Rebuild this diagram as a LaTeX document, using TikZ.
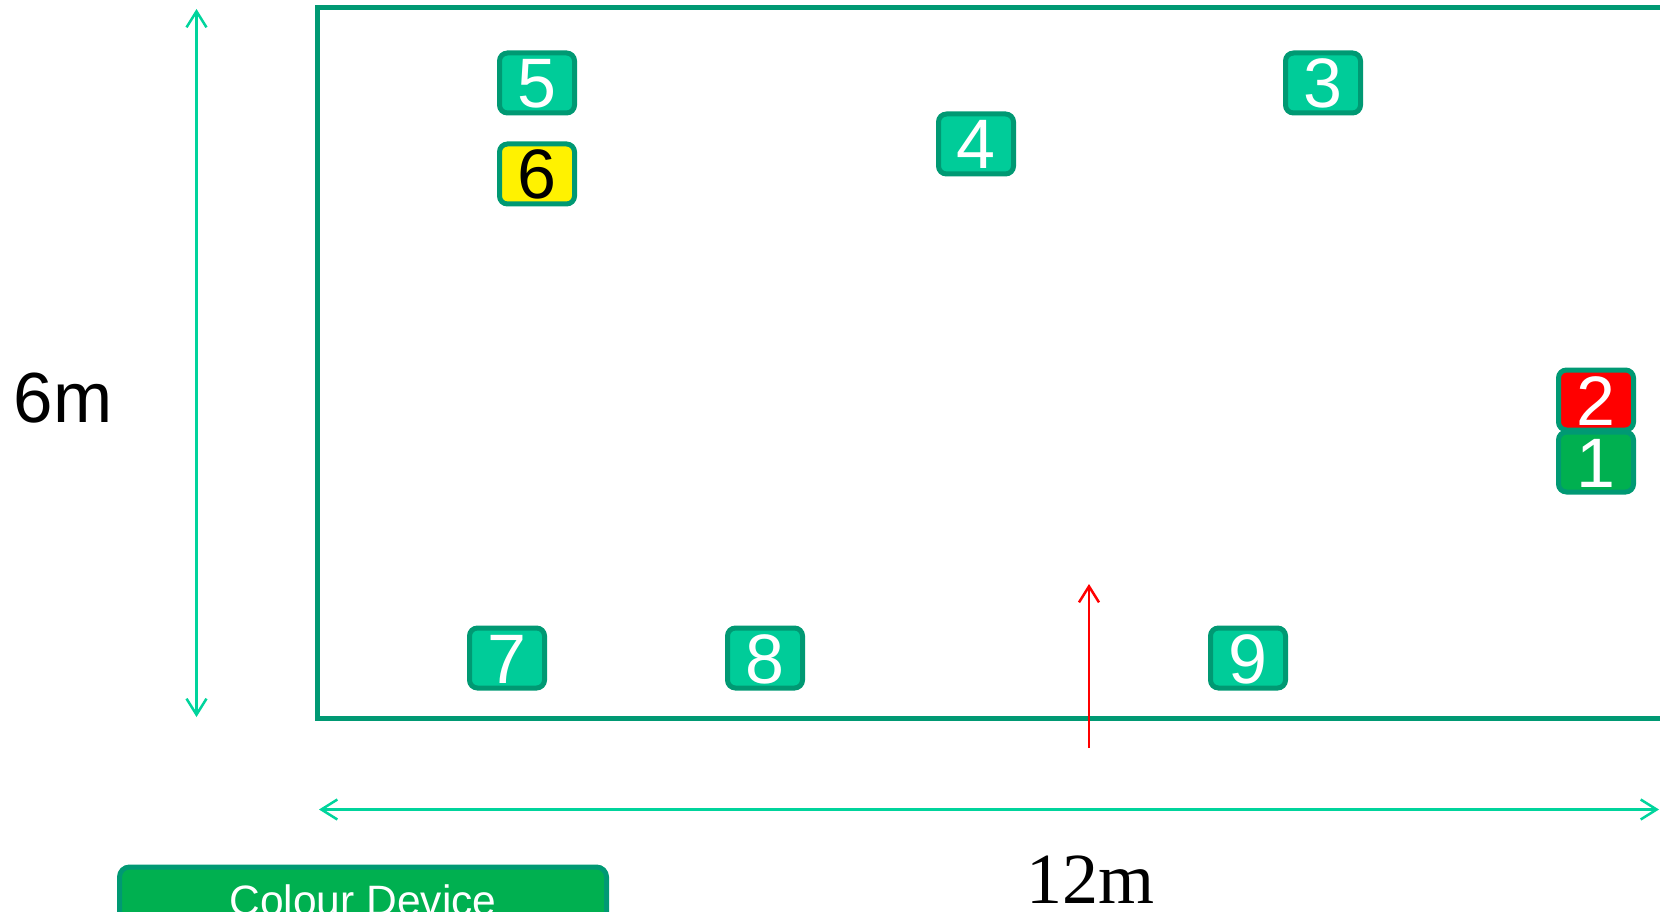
\documentclass[tikz,border=0pt]{standalone}
\usepackage{fontspec}
\setmainfont{Liberation Sans}
\newfontfamily\serifnum{Liberation Serif}
\usetikzlibrary{arrows.meta}
\definecolor{frameg}{HTML}{009973}
\definecolor{arrowg}{HTML}{00D49C}
\definecolor{boxg}{HTML}{00CC99}
\definecolor{darkg}{HTML}{00B050}
\tikzset{
  devbox/.style={draw=frameg, line width=5pt, rounded corners=8pt, fill=boxg,
    minimum width=75pt, minimum height=60pt, inner sep=0pt,
    text height=50pt, text depth=0pt, text=white,
    font=\fontsize{70}{70}\selectfont},
  dimarrow/.style={draw=arrowg, line width=2.5pt,
    {Straight Barb[length=16pt,width=20pt,line width=2.5pt]}-{Straight Barb[length=16pt,width=20pt,line width=2.5pt]}},
  wall/.style={draw=frameg, line width=5pt}
}
\begin{document}
\begin{tikzpicture}[x=1pt,y=-1pt]
\useasboundingbox (0,0) rectangle (1660,912);
% room outline
\coordinate (tl) at (317.5,7.5);
\coordinate (tr) at (1670,7.5);
\coordinate (bl) at (317.5,718.5);
\coordinate (br) at (1670,718.5);
\draw[wall] (tr) -- (tl) -- (bl) -- (br);
% dimension arrows
\coordinate (vt) at (196.5,9);
\coordinate (vb) at (196.5,717);
\draw[dimarrow] (vt) -- (vb);
\coordinate (hl) at (319,809.5);
\coordinate (hr) at (1659,809.5);
\draw[dimarrow] (hl) -- (hr);
% red arrow
\coordinate (ra) at (1089,748);
\coordinate (rb) at (1089,584);
\draw[red, line width=2.5pt, -{Straight Barb[length=16pt,width=20pt,line width=2.5pt]}] (ra) -- (rb);
% labels
\node[font=\fontsize{71}{71}\selectfont, inner sep=0pt, anchor=base] (six) at (63,422) {6m};
\node[font=\fontsize{72}{72}\selectfont\serifnum, inner sep=0pt, anchor=base] (twelve) at (1090,903) {12m};
% devices
\node[devbox] (d5) at (537,83) {5};
\node[devbox, fill=yellow, text=black] (d6) at (537,174) {6};
\node[devbox] (d4) at (976,144) {4};
\node[devbox] (d3) at (1323,83) {3};
\node[devbox, fill=darkg] (d1) at (1596,462) {1};
\node[devbox, fill=red] (d2) at (1596,400) {2};
\node[devbox] (d7) at (507,658) {7};
\node[devbox] (d8) at (765,658) {8};
\node[devbox] (d9) at (1248,658) {9};
% legend
\node[draw=frameg, line width=5pt, rounded corners=10pt, fill=darkg,
  minimum width=487pt, minimum height=66pt, inner sep=0pt,
  text height=30.5pt, text depth=0pt, text=white,
  font=\fontsize{42.5}{42.5}\selectfont] (legend) at (363,900) {Colour Device};
\end{tikzpicture}
\end{document}
